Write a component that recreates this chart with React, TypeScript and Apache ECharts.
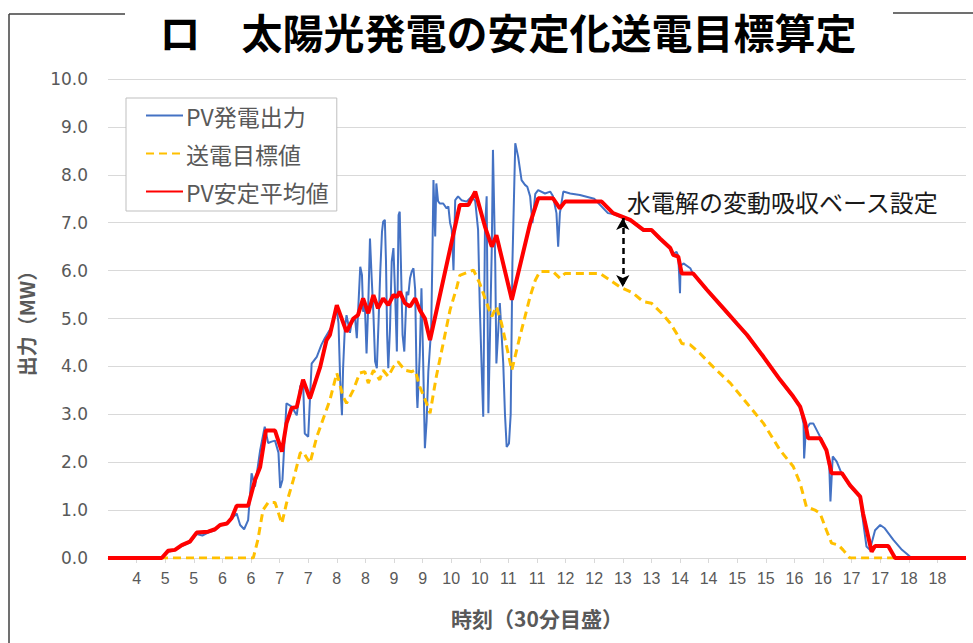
import React, { useEffect, useRef } from 'react';
import * as echarts from 'echarts';

const TITLE = 'ロ　太陽光発電の安定化送電目標算定';
const SERIES_NAMES = ['PV発電出力', '送電目標値', 'PV安定平均値'];
const X_AXIS_NAME = '時刻（30分目盛）';
const Y_AXIS_NAME = '出力（MW）';
const ANNOTATION_TEXT = '水電解の変動吸収ベース設定';

// half-hour tick positions (hours), labelled with the hour only
const TICK_HOURS = [4.5, 5, 5.5, 6, 6.5, 7, 7.5, 8, 8.5, 9, 9.5, 10, 10.5, 11, 11.5, 12, 12.5, 13, 13.5, 14, 14.5, 15, 15.5, 16, 16.5, 17, 17.5, 18, 18.5];

// annotation arrow: hour, upper value, lower value (MW)
const ARROW_HOUR = 13.0;
const ARROW_TOP = 7.1;
const ARROW_BOTTOM = 5.66;

// [hour, MW]
const pvOutput: [number, number][] = [
  [4, 0], [4.94, 0], [5.05, 0.13], [5.17, 0.16], [5.29, 0.25], [5.43, 0.32], [5.55, 0.5], [5.65, 0.47], [5.75, 0.53], [5.87, 0.58], [5.96, 0.68], [6.08, 0.71], [6.16, 0.82], [6.25, 0.93], [6.31, 0.69], [6.38, 0.6], [6.45, 0.79], [6.51, 1.77], [6.57, 1.49], [6.66, 2.25], [6.74, 2.74], [6.8, 2.4], [6.86, 2.43], [6.92, 2.45], [6.98, 2.2], [7.01, 1.46], [7.05, 1.63], [7.12, 3.23], [7.21, 3.16], [7.3, 2.98], [7.36, 3.58], [7.41, 3.7], [7.44, 2.6], [7.5, 2.53], [7.56, 4.06], [7.65, 4.2], [7.73, 4.45], [7.79, 4.59], [7.91, 4.83], [8.0, 5.18], [8.03, 4.9], [8.06, 3.68], [8.09, 2.98], [8.11, 3.96], [8.14, 4.79], [8.17, 5.07], [8.23, 4.7], [8.26, 4.93], [8.32, 5.0], [8.35, 4.59], [8.41, 6.08], [8.44, 5.91], [8.46, 5.14], [8.49, 5.3], [8.52, 4.27], [8.55, 5.28], [8.58, 6.67], [8.61, 5.84], [8.64, 5.1], [8.67, 4.1], [8.7, 3.96], [8.73, 4.93], [8.76, 5.98], [8.79, 6.81], [8.81, 7.02], [8.84, 7.06], [8.86, 6.19], [8.88, 4.66], [8.9, 3.96], [8.93, 4.79], [8.96, 6.19], [8.99, 6.47], [9.02, 5.49], [9.05, 4.31], [9.08, 7.16], [9.1, 7.23], [9.12, 6.2], [9.15, 4.66], [9.18, 4.31], [9.22, 5.56], [9.25, 5.49], [9.28, 5.84], [9.31, 5.98], [9.34, 6.05], [9.37, 5.6], [9.4, 3.4], [9.41, 3.13], [9.45, 4.24], [9.48, 5.63], [9.51, 4.1], [9.54, 2.29], [9.57, 2.85], [9.6, 3.89], [9.65, 4.79], [9.67, 6.19], [9.69, 7.89], [9.72, 6.71], [9.74, 7.82], [9.77, 7.45], [9.8, 7.4], [9.86, 7.4], [9.92, 7.3], [9.95, 7.34], [9.98, 7.0], [10.01, 6.85], [10.04, 6.01], [10.07, 7.47], [10.12, 7.55], [10.18, 7.47], [10.27, 7.44], [10.36, 7.55], [10.42, 7.45], [10.47, 6.85], [10.5, 5.25], [10.53, 4.06], [10.56, 2.95], [10.59, 6.85], [10.62, 7.55], [10.65, 3.02], [10.68, 4.76], [10.71, 6.5], [10.73, 8.52], [10.77, 6.15], [10.79, 4.06], [10.85, 5.32], [10.91, 4.06], [10.94, 3.0], [10.97, 2.32], [11.01, 2.39], [11.04, 3.0], [11.07, 6.15], [11.12, 8.66], [11.17, 8.38], [11.23, 7.89], [11.29, 7.79], [11.33, 7.75], [11.38, 7.55], [11.42, 6.99], [11.47, 7.6], [11.52, 7.68], [11.64, 7.61], [11.73, 7.65], [11.78, 7.55], [11.84, 7.2], [11.87, 6.5], [11.9, 7.2], [11.96, 7.65], [12.08, 7.61], [12.25, 7.58], [12.5, 7.5], [12.74, 7.2], [12.83, 7.18], [13.13, 7.04], [13.36, 6.83], [13.5, 6.83], [13.65, 6.65], [13.83, 6.45], [13.88, 6.35], [13.94, 6.39], [13.97, 6.3], [14.0, 5.53], [14.01, 6.1], [14.06, 6.15], [14.18, 6.05], [14.23, 5.92], [14.47, 5.58], [14.76, 5.19], [14.99, 4.88], [15.17, 4.64], [15.46, 4.18], [15.75, 3.7], [15.98, 3.35], [16.1, 3.14], [16.16, 2.8], [16.17, 2.08], [16.2, 2.67], [16.27, 2.81], [16.33, 2.81], [16.39, 2.67], [16.48, 2.46], [16.56, 2.25], [16.61, 1.9], [16.63, 1.18], [16.67, 2.12], [16.74, 2.01], [16.83, 1.75], [16.97, 1.5], [17.15, 1.26], [17.18, 0.95], [17.26, 0.24], [17.32, 0.17], [17.41, 0.58], [17.5, 0.69], [17.58, 0.62], [17.73, 0.38], [17.88, 0.17], [18.02, 0.03], [18.08, 0], [19, 0],
];

const transmissionTarget: [number, number][] = [
  [4, 0], [6.54, 0], [6.62, 0.38], [6.71, 1.0], [6.8, 1.16], [6.92, 1.16], [7.04, 0.72], [7.12, 1.14], [7.24, 1.63], [7.36, 2.19], [7.41, 2.22], [7.53, 1.98], [7.65, 2.53], [7.88, 3.3], [8.0, 3.86], [8.11, 3.37], [8.17, 3.23], [8.29, 3.51], [8.4, 3.86], [8.49, 3.89], [8.55, 3.65], [8.64, 3.92], [8.75, 3.72], [8.81, 3.92], [8.9, 3.79], [8.99, 3.99], [9.07, 4.1], [9.19, 3.92], [9.31, 3.89], [9.37, 3.92], [9.45, 3.58], [9.57, 3.23], [9.63, 3.02], [9.74, 3.79], [9.86, 4.48], [9.98, 5.18], [10.1, 5.66], [10.15, 5.9], [10.39, 6.01], [10.5, 5.73], [10.62, 5.32], [10.71, 5.04], [10.79, 5.25], [10.88, 4.9], [10.97, 4.41], [11.06, 3.92], [11.2, 4.62], [11.38, 5.46], [11.47, 5.8], [11.55, 5.98], [11.78, 5.98], [11.9, 5.84], [11.99, 5.94], [12.6, 5.94], [12.78, 5.8], [12.95, 5.66], [13.18, 5.53], [13.36, 5.35], [13.5, 5.32], [13.68, 5.11], [13.83, 4.9], [13.94, 4.69], [14.03, 4.48], [14.18, 4.45], [14.35, 4.27], [14.58, 3.99], [14.88, 3.65], [15.17, 3.23], [15.46, 2.81], [15.75, 2.25], [15.98, 1.91], [16.1, 1.56], [16.21, 1.07], [16.36, 1.0], [16.45, 0.93], [16.56, 0.58], [16.65, 0.31], [16.77, 0.27], [16.85, 0.17], [16.97, 0], [19, 0],
];

const pvStableAverage: [number, number][] = [
  [4, 0], [4.94, 0], [5.05, 0.15], [5.17, 0.17], [5.29, 0.27], [5.43, 0.34], [5.55, 0.53], [5.75, 0.55], [5.87, 0.6], [5.96, 0.69], [6.08, 0.72], [6.16, 0.83], [6.25, 1.09], [6.45, 1.09], [6.57, 1.63], [6.66, 1.9], [6.76, 2.66], [6.92, 2.66], [7.04, 2.22], [7.12, 2.81], [7.21, 3.13], [7.3, 3.15], [7.41, 3.72], [7.53, 3.33], [7.71, 3.99], [7.82, 4.55], [7.88, 4.66], [8.0, 5.28], [8.17, 4.72], [8.29, 5.0], [8.37, 5.07], [8.46, 5.42], [8.55, 5.11], [8.64, 5.49], [8.72, 5.21], [8.81, 5.42], [8.9, 5.28], [8.99, 5.49], [9.05, 5.45], [9.1, 5.56], [9.19, 5.32], [9.28, 5.25], [9.37, 5.42], [9.45, 5.18], [9.54, 5.0], [9.63, 4.55], [10.15, 7.37], [10.3, 7.37], [10.42, 7.65], [10.59, 6.92], [10.71, 6.5], [10.79, 6.74], [11.06, 5.39], [11.38, 6.99], [11.52, 7.51], [11.78, 7.51], [11.9, 7.3], [11.99, 7.44], [12.63, 7.44], [12.83, 7.2], [13.13, 7.06], [13.36, 6.85], [13.5, 6.85], [13.65, 6.67], [13.83, 6.47], [13.88, 6.33], [13.97, 6.29], [14.03, 5.94], [14.23, 5.94], [14.47, 5.6], [14.76, 5.21], [14.99, 4.9], [15.17, 4.66], [15.46, 4.2], [15.75, 3.72], [15.98, 3.37], [16.1, 3.16], [16.19, 2.81], [16.24, 2.5], [16.45, 2.5], [16.56, 2.25], [16.65, 1.77], [16.83, 1.77], [16.97, 1.52], [17.15, 1.28], [17.2, 0.93], [17.35, 0.13], [17.41, 0.25], [17.64, 0.25], [17.76, 0], [19, 0],
];

const CJK = '"Noto Sans CJK JP", "Noto Sans", sans-serif';

export default function App() {
  const ref = useRef<HTMLDivElement>(null);
  useEffect(() => {
    document.body.style.margin = '0';
    const chart = echarts.init(ref.current!, null, { renderer: 'svg' });
    chart.setOption({
      animation: false,
      backgroundColor: '#ffffff',
      grid: { left: 108, right: 7, top: 79, bottom: 85, containLabel: false },
      xAxis: {
        type: 'value',
        min: 4,
        max: 19,
        interval: 0.5,
        axisLine: { show: true, lineStyle: { color: '#d9d9d9', width: 1 } },
        axisTick: { show: true, customValues: TICK_HOURS, length: 5, lineStyle: { color: '#d9d9d9' } },
        axisLabel: {
          customValues: TICK_HOURS,
          formatter: (v: number) => String(Math.floor(v)),
          fontSize: 16,
          color: '#595959',
          margin: 12,
          fontFamily: '"Liberation Sans Narrow", "Liberation Sans", sans-serif',
        },
        splitLine: { show: false },
        name: X_AXIS_NAME,
        nameLocation: 'middle',
        nameGap: 49,
        nameTextStyle: { fontSize: 21, fontWeight: 'bold', color: '#595959', fontFamily: CJK },
      },
      yAxis: {
        type: 'value',
        min: 0,
        max: 10,
        interval: 1,
        axisLine: { show: false },
        axisTick: { show: false },
        axisLabel: {
          formatter: (v: number) => v.toFixed(1),
          fontSize: 17,
          color: '#595959',
          margin: 20,
          fontFamily: '"DejaVu Sans", sans-serif',
        },
        splitLine: { lineStyle: { color: '#d9d9d9', width: 1 } },
        name: Y_AXIS_NAME,
        nameLocation: 'middle',
        nameGap: 72,
        nameTextStyle: { fontSize: 20, fontWeight: 'bold', color: '#595959', fontFamily: CJK },
      },
      legend: {
        left: 126,
        top: 98,
        orient: 'vertical',
        z: 10,
        backgroundColor: '#ffffff',
        borderColor: '#bfbfbf',
        borderWidth: 1,
        padding: [6, 8, 8, 19],
        itemGap: 15,
        itemWidth: 37,
        itemHeight: 14,
        data: SERIES_NAMES,
        itemStyle: { opacity: 0 },
        textStyle: { fontSize: 23, color: '#595959', fontFamily: CJK, padding: [0, 0, 0, -2] },
      },
      series: [
        {
          name: SERIES_NAMES[0],
          type: 'line',
          data: pvOutput,
          symbol: 'none',
          lineStyle: { color: '#4472C4', width: 2 },
          itemStyle: { color: '#4472C4' },
        },
        {
          name: SERIES_NAMES[1],
          type: 'line',
          data: transmissionTarget,
          symbol: 'none',
          lineStyle: { color: '#FFC000', width: 3, type: [8, 5] },
          itemStyle: { color: '#FFC000' },
        },
        {
          name: SERIES_NAMES[2],
          type: 'line',
          data: pvStableAverage,
          symbol: 'none',
          lineStyle: { color: '#FF0000', width: 4 },
          itemStyle: { color: '#FF0000' },
          markLine: {
            silent: true,
            symbol: ['arrow', 'arrow'],
            symbolSize: [10, 12],
            label: { show: false },
            lineStyle: { color: '#000000', type: [6, 4], width: 2.5 },
            data: [[{ coord: [ARROW_HOUR, ARROW_TOP] }, { coord: [ARROW_HOUR, ARROW_BOTTOM] }]],
          },
        },
      ],
      graphic: [
        {
          type: 'text',
          x: 508,
          y: 31,
          style: {
            text: TITLE,
            font: `bold 41px ${CJK}`,
            fill: '#000000',
            align: 'center',
            verticalAlign: 'middle',
          },
        },
        { type: 'line', shape: { x1: 9, y1: 14, x2: 9, y2: 643 }, style: { stroke: '#404040', lineWidth: 1.5 } },
        { type: 'line', shape: { x1: 9, y1: 14, x2: 125, y2: 14 }, style: { stroke: '#404040', lineWidth: 1.5 } },
        { type: 'line', shape: { x1: 893, y1: 13, x2: 973, y2: 13 }, style: { stroke: '#404040', lineWidth: 1.5 } },
        {
          type: 'text',
          x: 627,
          y: 201,
          z: 20,
          style: {
            text: ANNOTATION_TEXT,
            font: `24px ${CJK}`,
            fill: '#1a1a1a',
            align: 'left',
            verticalAlign: 'middle',
          },
        },
      ],
    });
    return () => chart.dispose();
  }, []);
  return <div ref={ref} style={{ width: 973, height: 643 }} />;
}
